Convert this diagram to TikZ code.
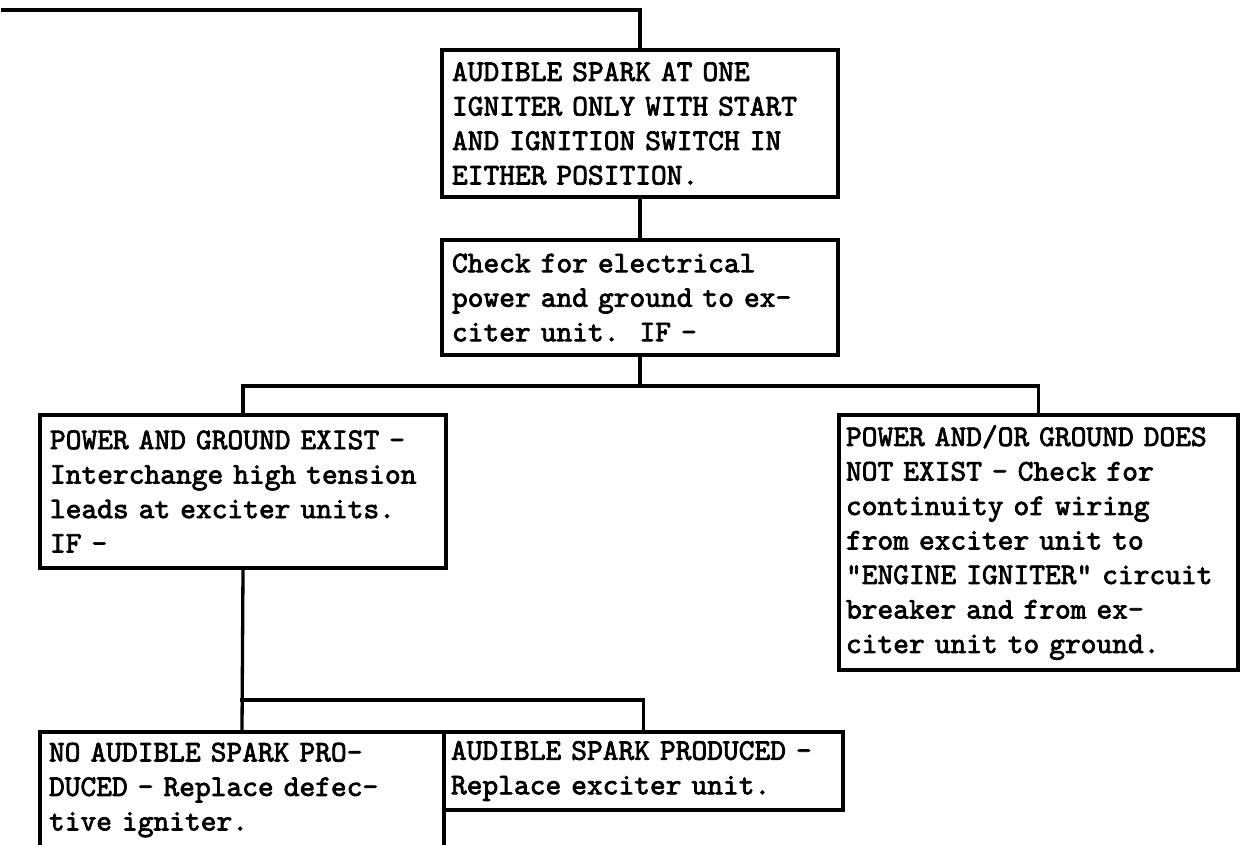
\documentclass[tikz,border=0pt]{standalone}
\usepackage{fontspec}
\newfontfamily\twfont{lmmono10-regular.otf}[FakeBold=2.4]
\protected\def\twsetup{\twfont\fontsize{30}{34.5}\selectfont\spaceskip=15.75pt\relax\xspaceskip=15.75pt\relax}
\tikzset{
  box/.style={draw=black, line width=4pt, rectangle, inner xsep=10pt, inner ysep=0pt,
    align=left, font=\twsetup},
  conn/.style={draw=black, line width=3.3pt, line cap=rect},
}
\begin{document}
\begin{tikzpicture}[x=1pt,y=-1pt]
\useasboundingbox (0,0) rectangle (1241,844);
\clip (0,0) rectangle (1241,844);
\fill[white] (0,0) rectangle (1241,844);

\node[box, minimum width=396, minimum height=147, text width=376] (b1) at (640,123.5)
  {AUDIBLE SPARK AT ONE\\IGNITER ONLY WITH START\\AND IGNITION SWITCH IN\\EITHER POSITION.};
\node[box, minimum width=396, minimum height=115, text width=376] (b2) at (640,297.5)
  {Check for electrical\\power and ground to ex-\\citer unit.\ \ IF -};
\node[box, minimum width=406, minimum height=153, text width=386] (b3) at (243,491.5)
  {POWER AND GROUND EXIST -\\Interchange high tension\\leads at exciter units.\\IF -};
\node[box, minimum width=399, minimum height=255, text width=385, inner xsep=7pt] (b4) at (1038.5,542.5)
  {POWER AND/OR GROUND DOES\\NOT EXIST - Check for\\continuity of wiring\\from exciter unit to\\"ENGINE IGNITER" circuit\\breaker and from ex-\\citer unit to ground.};
\node[box, minimum width=404, minimum height=116, text width=386, inner xsep=9pt] (b5) at (242,790)
  {NO AUDIBLE SPARK PRO-\\DUCED - Replace defec-\\tive igniter.};
\node[box, minimum width=399, minimum height=78, text width=385, inner xsep=7pt] (b6) at (643.5,771)
  {AUDIBLE SPARK PRODUCED -\\Replace exciter unit.};

\coordinate (start) at (3,10);
\coordinate (j1) at (640,386);
\coordinate (j2) at (242,700);

\draw[conn] (start) -| (b1.north);
\draw[conn] (b1.south) -- (b2.north);
\draw[conn] (b2.south) -- (j1);
\draw[conn] (b3.north) |- (j1) -| (b4.north);
\draw[conn] (b3.south) -- (b5.north);
\draw[conn] (j2) -| (b6.north);
\end{tikzpicture}
\end{document}
